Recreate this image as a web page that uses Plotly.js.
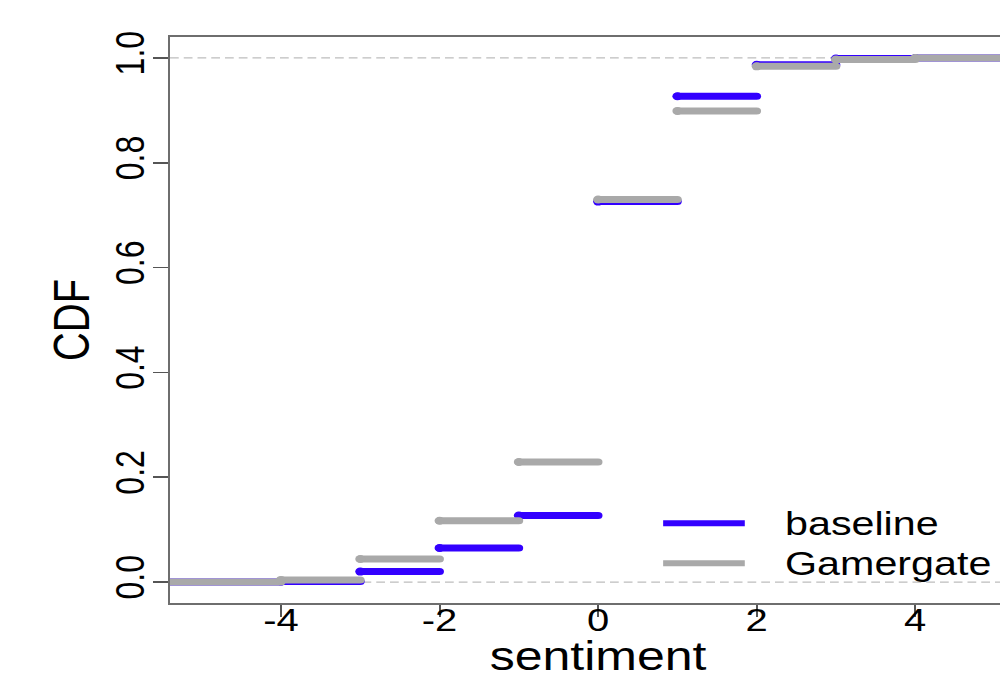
<!DOCTYPE html>
<html><head><meta charset="utf-8">
<script src="https://cdn.plot.ly/plotly-3.0.1.min.js"></script>
<style>
html,body{margin:0;padding:0;overflow:hidden;background:#fff;width:1000px;height:678px}
#wrap{width:1000px;height:678px;overflow:hidden;position:relative}
#chart{width:860px;height:678px;transform:scaleX(1.25);transform-origin:0 0;position:absolute;left:0;top:0}
.js-line{stroke-linecap:round}
</style></head><body><div id="wrap"><div id="chart"></div></div>
<script>
// ECDF data: knots (jump points) and CDF level before the first knot and after each knot
const knots = [-4, -3, -2, -1, 0, 1, 2, 3, 4];
const baselineCDF  = [0, 0.001, 0.020, 0.065, 0.127, 0.726, 0.927, 0.987, 0.999, 1.0];
const gamergateCDF = [0, 0.004, 0.044, 0.117, 0.229, 0.730, 0.899, 0.984, 0.997, 1.0];
const seriesNames = ['baseline', 'Gamergate'];
const xTickVals = [-4, -2, 0, 2, 4];
const xTickText = ['-4', '-2', '0', '2', '4'];
const yTickVals = [0, 0.2, 0.4, 0.6, 0.8, 1.0];
const yTickText = ['0.0', '0.2', '0.4', '0.6', '0.8', '1.0'];

const xRange = [-5.4, 5.4];
const yRange = [-0.04, 1.04];
const colors = ['#3300ff', '#a9a9a9'];

function stepTraces(vals, name, color) {
  const edges = [xRange[0]].concat(knots, [xRange[1]]);
  const xs = [], ys = [];
  for (let i = 0; i < vals.length; i++) {
    xs.push(edges[i], edges[i + 1], null);
    ys.push(vals[i], vals[i], null);
  }
  return [
    {x: xs, y: ys, mode: 'lines', name: name, showlegend: false, hoverinfo: 'skip',
     line: {color: color, width: 7}},
    {x: knots, y: vals.slice(1), mode: 'markers', name: name, showlegend: false,
     marker: {color: color, size: 8}}
  ];
}

const data = [].concat(
  stepTraces(baselineCDF, seriesNames[0], colors[0]),
  stepTraces(gamergateCDF, seriesNames[1], colors[1])
);

const font = {family: '"Liberation Sans", Arial, Helvetica, sans-serif', color: '#000'};

const legendY = [0.112, 0.036];
const shapes = [
  {type: 'line', xref: 'paper', yref: 'y', x0: 0, x1: 1, y0: 0, y1: 0,
   line: {color: '#bdbdbd', width: 1.3, dash: '7px,4px'}, layer: 'below'},
  {type: 'line', xref: 'paper', yref: 'y', x0: 0, x1: 1, y0: 1, y1: 1,
   line: {color: '#bdbdbd', width: 1.3, dash: '7px,4px'}, layer: 'below'}
];
const annotations = [];
seriesNames.forEach((n, i) => {
  shapes.push({type: 'line', xref: 'x', yref: 'y', x0: 0.82, x1: 1.85, y0: legendY[i], y1: legendY[i],
    line: {color: colors[i], width: 6}});
  annotations.push({xref: 'x', yref: 'y', x: 2.33, y: legendY[i], text: n, showarrow: false,
    xanchor: 'left', yanchor: 'middle', font: Object.assign({size: 33}, font)});
});

const layout = {
  width: 860, height: 678,
  margin: {l: 136, r: 39, t: 37, b: 75},
  paper_bgcolor: '#fff', plot_bgcolor: '#fff',
  showlegend: false,
  font: font,
  xaxis: {
    range: xRange, tickmode: 'array', tickvals: xTickVals, ticktext: xTickText,
    ticks: 'outside', ticklen: 12, tickwidth: 1.5, tickcolor: '#555',
    showline: true, mirror: true, linecolor: '#6e6e6e', linewidth: 2,
    showgrid: false, zeroline: false,
    tickfont: Object.assign({size: 32}, font),
    ticklabelstandoff: -24,
    title: {text: 'sentiment', font: Object.assign({size: 40}, font), standoff: 11},
    automargin: false
  },
  yaxis: {
    range: yRange, tickmode: 'array', tickvals: yTickVals, ticktext: yTickText,
    ticks: 'outside', ticklen: 12, tickwidth: 1.5, tickcolor: '#555',
    tickangle: -90,
    showline: true, mirror: true, linecolor: '#6e6e6e', linewidth: 2,
    showgrid: false, zeroline: false,
    tickfont: Object.assign({size: 32}, font),
    ticklabelstandoff: -6,
    title: {text: 'CDF', font: Object.assign({size: 40}, font), standoff: 2},
    automargin: false
  },
  shapes: shapes,
  annotations: annotations
};

Plotly.newPlot('chart', data, layout, {staticPlot: true, displayModeBar: false});
</script></body></html>
